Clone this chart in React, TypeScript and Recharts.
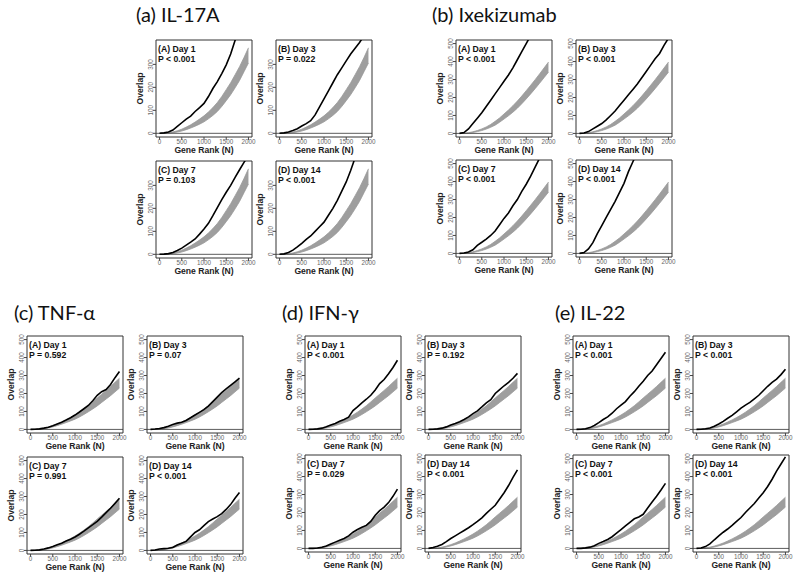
import {
  ComposedChart,
  Line,
  Area,
  XAxis,
  YAxis,
  ReferenceLine,
  ReferenceArea,
} from 'recharts'

// gene rank (N) sampled every 100
const RANKS = [0, 100, 200, 300, 400, 500, 600, 700, 800, 900, 1000, 1100, 1200, 1300, 1400, 1500, 1600, 1700, 1800, 1900, 2000]

// null-distribution bands (lower / upper) per group
const BAND_A_LO = [0, 0, 1, 3, 6, 10, 16, 23, 31, 40, 50, 63, 78, 95, 117, 142, 168, 198, 230, 268, 306]
const BAND_A_HI = [0, 1, 3, 6, 11, 18, 27, 37, 49, 62, 76, 93, 112, 134, 160, 190, 220, 255, 290, 330, 372]
const BAND_B_LO = [0, 0, 2, 5, 10, 16, 24, 34, 46, 62, 80, 98, 118, 140, 165, 192, 220, 249, 279, 310, 341]
const BAND_B_HI = [0, 1, 4, 9, 16, 25, 36, 50, 67, 86, 108, 130, 154, 180, 208, 238, 268, 299, 331, 364, 397]
const BAND_C_LO = [0, 0, 1, 4, 8, 14, 21, 29, 38, 47, 57, 69, 83, 98, 114, 131, 150, 169, 188, 209, 230]
const BAND_C_HI = [0, 1, 3, 7, 13, 21, 30, 41, 53, 66, 80, 96, 113, 132, 153, 175, 196, 217, 239, 262, 285]

// observed overlap
const IL17A_D1 = [0, 2, 6, 14, 30, 46, 62, 75, 95, 112, 130, 160, 195, 225, 260, 298, 345, 405, 460, 510, 560]
const IL17A_D3 = [0, 2, 6, 12, 20, 32, 42, 55, 80, 115, 150, 185, 220, 255, 285, 315, 345, 370, 395, 425, 455]
const IL17A_D7 = [0, 1, 3, 8, 17, 27, 40, 53, 67, 88, 110, 135, 168, 203, 238, 270, 300, 335, 368, 400, 430]
const IL17A_D14 = [0, 2, 8, 18, 32, 48, 65, 80, 100, 120, 140, 170, 200, 235, 275, 315, 365, 420, 470, 520, 570]

const IXE_D1 = [0, 5, 25, 55, 85, 115, 150, 185, 220, 255, 290, 325, 365, 410, 455, 500, 545, 590, 635, 680, 725]
const IXE_D3 = [0, 2, 10, 25, 40, 55, 75, 100, 125, 155, 185, 215, 245, 275, 310, 345, 380, 415, 445, 490, 530]
const IXE_D7 = [0, 2, 8, 20, 45, 62, 80, 100, 125, 160, 195, 225, 265, 300, 345, 385, 430, 480, 530, 575, 620]
const IXE_D14 = [0, 5, 25, 60, 110, 155, 200, 245, 290, 340, 390, 455, 510, 565, 615, 665, 715, 765, 815, 865, 915]

const TNF_D1 = [0, 1, 3, 7, 12, 20, 30, 40, 52, 65, 80, 97, 115, 133, 160, 190, 210, 222, 250, 288, 322]
const TNF_D3 = [0, 2, 5, 10, 18, 27, 35, 40, 50, 65, 80, 95, 110, 130, 155, 180, 205, 225, 245, 265, 285]
const TNF_D7 = [0, 1, 3, 8, 14, 22, 31, 40, 52, 62, 75, 90, 107, 125, 143, 162, 185, 210, 235, 262, 290]
const TNF_D14 = [0, 2, 8, 10, 12, 16, 30, 40, 50, 75, 100, 115, 138, 160, 175, 188, 205, 228, 255, 290, 322]

const IFN_D1 = [0, 1, 3, 7, 15, 24, 33, 45, 55, 68, 105, 125, 148, 168, 190, 220, 255, 278, 310, 345, 385]
const IFN_D3 = [0, 1, 3, 7, 14, 24, 33, 43, 55, 70, 88, 103, 125, 148, 165, 200, 222, 243, 262, 285, 312]
const IFN_D7 = [0, 0, 2, 6, 13, 25, 35, 45, 55, 70, 90, 105, 118, 128, 150, 185, 210, 230, 255, 290, 330]
const IFN_D14 = [0, 5, 12, 22, 38, 55, 70, 85, 100, 115, 132, 150, 170, 195, 218, 240, 275, 310, 350, 395, 437]

const IL22_D1 = [0, 1, 4, 10, 22, 38, 55, 70, 90, 115, 135, 155, 185, 210, 240, 268, 300, 325, 360, 395, 430]
const IL22_D3 = [0, 1, 4, 8, 18, 30, 45, 62, 78, 98, 118, 135, 150, 170, 190, 215, 240, 262, 280, 305, 335]
const IL22_D7 = [0, 0, 3, 7, 15, 28, 38, 50, 65, 85, 105, 125, 145, 165, 175, 190, 225, 258, 290, 325, 362]
const IL22_D14 = [0, 2, 10, 25, 48, 70, 90, 108, 128, 150, 172, 200, 225, 250, 280, 310, 345, 385, 430, 470, 510]

const DAYS = ['(A) Day 1', '(B) Day 3', '(C) Day 7', '(D) Day 14']
const X_TICKS = [0, 500, 1000, 1500, 2000]
const Y_TICKS_A = [0, 100, 200, 300]
const Y_TICKS = [0, 100, 200, 300, 400, 500]

const PLOT_FONT = '"Liberation Sans", Arial, sans-serif'
const TITLE_FONT = 'Lato, "Noto Sans", sans-serif'

const GROUPS = [
  {
    title: '(a) IL-17A',
    titleX: 136,
    titleY: 22,
    boxes: [[156, 40], [276, 40], [156, 161], [276, 161]],
    series: [IL17A_D1, IL17A_D3, IL17A_D7, IL17A_D14],
    pvals: ['P < 0.001', 'P = 0.022', 'P = 0.103', 'P < 0.001'],
    lo: BAND_A_LO,
    hi: BAND_A_HI,
    yDomain: [-16, 406],
    yTicks: Y_TICKS_A,
  },
  {
    title: '(b) Ixekizumab',
    titleX: 432,
    titleY: 22,
    boxes: [[456, 40], [576, 40], [456, 160], [576, 160]],
    series: [IXE_D1, IXE_D3, IXE_D7, IXE_D14],
    pvals: ['P < 0.001', 'P < 0.001', 'P < 0.001', 'P < 0.001'],
    lo: BAND_B_LO,
    hi: BAND_B_HI,
    yDomain: [-20, 520],
    yTicks: Y_TICKS,
  },
  {
    title: '(c) TNF-α',
    titleX: 14,
    titleY: 320,
    boxes: [[27, 336], [147, 336], [27, 457], [147, 457]],
    series: [TNF_D1, TNF_D3, TNF_D7, TNF_D14],
    pvals: ['P = 0.592', 'P = 0.07', 'P = 0.991', 'P < 0.001'],
    lo: BAND_C_LO,
    hi: BAND_C_HI,
    yDomain: [-20, 520],
    yTicks: Y_TICKS,
  },
  {
    title: '(d) IFN-γ',
    titleX: 282,
    titleY: 320,
    boxes: [[305, 336], [425, 336], [305, 455], [425, 455]],
    series: [IFN_D1, IFN_D3, IFN_D7, IFN_D14],
    pvals: ['P < 0.001', 'P = 0.192', 'P = 0.029', 'P < 0.001'],
    lo: BAND_C_LO,
    hi: BAND_C_HI,
    yDomain: [-20, 520],
    yTicks: Y_TICKS,
  },
  {
    title: '(e) IL-22',
    titleX: 555,
    titleY: 320,
    boxes: [[573, 336], [693, 336], [573, 455], [693, 455]],
    series: [IL22_D1, IL22_D3, IL22_D7, IL22_D14],
    pvals: ['P < 0.001', 'P < 0.001', 'P < 0.001', 'P < 0.001'],
    lo: BAND_C_LO,
    hi: BAND_C_HI,
    yDomain: [-20, 520],
    yTicks: Y_TICKS,
  },
]

const BOX_W = 96
const BOX_H = 97
const Y_AXIS_W = 30
const X_AXIS_H = 26
const TOP_PAD = 4
const RIGHT_PAD = 4

function YTick(props: any) {
  const { x, y, payload } = props
  return (
    <text
      x={x}
      y={y}
      transform={`rotate(-90 ${x} ${y})`}
      textAnchor="middle"
      fontSize={6.3}
      fill="#666"
      fontFamily={PLOT_FONT}
    >
      {payload.value}
    </text>
  )
}

function XLabel(props: any) {
  const vb = props.viewBox || {}
  return (
    <text
      x={vb.x + vb.width / 2}
      y={vb.y + 16}
      textAnchor="middle"
      fontSize={8.6}
      fontWeight="bold"
      fill="#222"
      fontFamily={PLOT_FONT}
    >
      Gene Rank (N)
    </text>
  )
}

function YLabel(props: any) {
  const vb = props.viewBox || {}
  const x = vb.x + 17
  const y = vb.y + vb.height / 2
  return (
    <text
      x={x}
      y={y}
      transform={`rotate(-90 ${x} ${y})`}
      textAnchor="middle"
      fontSize={8.6}
      fontWeight="bold"
      fill="#222"
      fontFamily={PLOT_FONT}
    >
      Overlap
    </text>
  )
}

interface PanelProps {
  left: number
  top: number
  obs: number[]
  lo: number[]
  hi: number[]
  yDomain: number[]
  yTicks: number[]
}

function Panel({ left, top, obs, lo, hi, yDomain, yTicks }: PanelProps) {
  const rows = RANKS.map((x, i) => ({ x, obs: obs[i], lo: lo[i], hi: hi[i] }))
  return (
    <div style={{ position: 'absolute', left: left - Y_AXIS_W, top: top - TOP_PAD }}>
      <ComposedChart
        width={Y_AXIS_W + BOX_W + RIGHT_PAD}
        height={TOP_PAD + BOX_H + X_AXIS_H}
        data={rows}
        margin={{ top: TOP_PAD, right: RIGHT_PAD, bottom: 0, left: 0 }}
      >
        <XAxis
          type="number"
          dataKey="x"
          domain={[-80, 2080]}
          ticks={X_TICKS}
          interval={0}
          height={X_AXIS_H}
          axisLine={false}
          tickSize={3}
          tickMargin={0}
          tickLine={{ stroke: '#444' }}
          tick={{ fontSize: 6.3, fill: '#666', fontFamily: PLOT_FONT }}
          label={<XLabel />}
        />
        <YAxis
          type="number"
          domain={yDomain}
          allowDataOverflow
          ticks={yTicks}
          interval={0}
          width={Y_AXIS_W}
          axisLine={false}
          tickSize={3}
          tickMargin={0}
          tickLine={{ stroke: '#444' }}
          tick={<YTick />}
          label={<YLabel />}
        />
        <Area
          type="linear"
          dataKey={(d: any) => [d.lo, d.hi]}
          stroke="#999"
          strokeWidth={0.8}
          fill="#9e9e9e"
          fillOpacity={1}
          isAnimationActive={false}
        />
        <ReferenceLine y={0} stroke="#333" strokeWidth={0.8} />
        <Line
          type="linear"
          dataKey="obs"
          stroke="#000"
          strokeWidth={1.6}
          dot={false}
          isAnimationActive={false}
        />
        <ReferenceArea
          x1={-80}
          x2={2080}
          y1={yDomain[0]}
          y2={yDomain[1]}
          fill="none"
          stroke="#333"
          strokeWidth={1}
        />
      </ComposedChart>
    </div>
  )
}

export default function App() {
  return (
    <div
      style={{
        position: 'absolute',
        left: 0,
        top: 0,
        width: 800,
        height: 580,
        background: '#fff',
        overflow: 'hidden',
      }}
    >
      {GROUPS.map((g) =>
        g.boxes.map(([bx, by], i) => (
          <Panel
            key={g.title + i}
            left={bx}
            top={by}
            obs={g.series[i]}
            lo={g.lo}
            hi={g.hi}
            yDomain={g.yDomain}
            yTicks={g.yTicks}
          />
        ))
      )}
      <svg
        width={800}
        height={580}
        style={{ position: 'absolute', left: 0, top: 0, pointerEvents: 'none' }}
      >
        {GROUPS.map((g) => (
          <g key={g.title}>
            <text x={g.titleX} y={g.titleY} fontSize={20} fontFamily={TITLE_FONT} fill="#111">
              {g.title}
            </text>
            {g.boxes.map(([bx, by], i) => (
              <text
                key={i}
                fontSize={8.7}
                fontWeight="bold"
                fontFamily={PLOT_FONT}
                fill="#111"
              >
                <tspan x={bx + 2} y={by + 12}>{DAYS[i]}</tspan>
                <tspan x={bx + 2} y={by + 22}>{g.pvals[i]}</tspan>
              </text>
            ))}
          </g>
        ))}
      </svg>
    </div>
  )
}
